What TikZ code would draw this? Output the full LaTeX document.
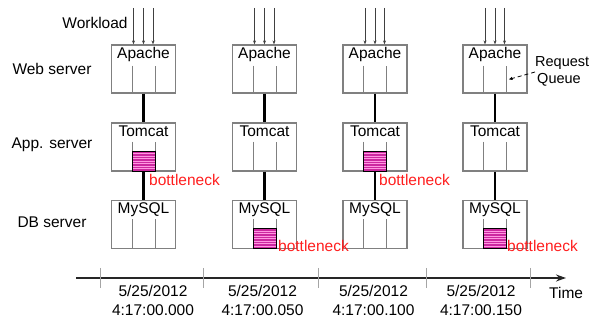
\documentclass[tikz,border=0pt]{standalone}
\usepackage{fontspec}
\setmainfont{Liberation Sans}
\usetikzlibrary{arrows.meta,calc}
\definecolor{boxgray}{RGB}{128,128,128}
\definecolor{jammag}{RGB}{204,40,160}
\definecolor{jampink}{RGB}{255,150,225}
\definecolor{bnred}{RGB}{255,30,30}
\definecolor{tickgray}{RGB}{165,165,165}
\begin{document}
\begin{tikzpicture}[x=1pt,y=-1pt,
  every node/.style={font=\fontsize{15.5}{19}\selectfont},
  srv/.style={draw=boxgray,line width=1.2pt,minimum width=64pt,minimum height=48pt,inner sep=0pt},
  srvname/.style={anchor=north,inner sep=3pt},
  qline/.style={draw=boxgray,line width=1pt},
  link/.style={line width=2.2pt,black},
  wl/.style={draw=black!75,line width=0.6pt,-{Stealth[length=4pt,width=3pt]}},
  jam/.style={draw=black,line width=0.9pt,fill=jammag,minimum width=23pt,minimum height=20pt,inner sep=0pt,
    path picture={\foreach \k in {1,...,7}{\draw[jampink,line width=0.7pt]
      ($(path picture bounding box.north west)!\k/8!(path picture bounding box.south west)$) --
      ($(path picture bounding box.north east)!\k/8!(path picture bounding box.south east)$);}}},
  bn/.style={text=bnred,anchor=west,inner sep=0pt},
  rowlbl/.style={inner sep=0pt},
  tick/.style={draw=tickgray,line width=1pt},
  datelbl/.style={align=center,inner sep=0pt},
  rqlbl/.style={inner sep=0pt,font=\fontsize{14.5}{17}\selectfont}]
\useasboundingbox (0,0) rectangle (590,320);

% row labels
\node[rowlbl] (wlt) at (95,23) {Workload};
\node[rowlbl] (rweb) at (52,69) {Web server};
\node[rowlbl] (rapp) at (52,145) {App. server};
\node[rowlbl] (rdb) at (52,222) {DB server};

% columns: centres 143.5, 264.5, 375, 495
\foreach \c/\cx in {1/143.5,2/264.5,3/375,4/495}{
  \node[srv] (a\c) at (\cx,69) {};
  \node[srvname] (a\c t) at (a\c.north) {Apache};
  \node[srv] (t\c) at (\cx,147) {};
  \node[srvname] (t\c t) at (t\c.north) {Tomcat};
  \node[srv] (m\c) at (\cx,224.5) {};
  \node[srvname] (m\c t) at (m\c.north) {MySQL};
  % request queues
  \draw[qline] ($(a\c.south)+(-11.5,-28)$) -- ($(a\c.south)+(-11.5,-1)$) -- ($(a\c.south)+(11.5,-1)$) -- ($(a\c.south)+(11.5,-28)$);
  \draw[qline] ($(t\c.south)+(-11.5,-30)$) -- ($(t\c.south)+(-11.5,-1)$) -- ($(t\c.south)+(11.5,-1)$) -- ($(t\c.south)+(11.5,-30)$);
  \draw[qline] ($(m\c.south)+(-11.5,-30)$) -- ($(m\c.south)+(-11.5,-1)$) -- ($(m\c.south)+(11.5,-1)$) -- ($(m\c.south)+(11.5,-30)$);
  % workload arrows
  \coordinate (w\c a) at (\cx-10,8);
  \coordinate (w\c b) at (\cx,8);
  \coordinate (w\c c) at (\cx+9.5,8);
  \draw[wl] (w\c a) -- (w\c a |- a\c.north);
  \draw[wl] (w\c b) -- (w\c b |- a\c.north);
  \draw[wl] (w\c c) -- (w\c c |- a\c.north);
  % links
  \draw[link] (a\c.south) -- (t\c.north);
  \draw[link] (t\c.south) -- (m\c.north);
}

% bottleneck queues
\node[jam] (j1) at ($(t1.south)+(0,-10.6)$) {};
\node[bn] (b1) at (149,180) {bottleneck};
\node[jam] (j2) at ($(m2.south)+(0,-10.6)$) {};
\node[bn] (b2) at (278,246) {bottleneck};
\node[jam] (j3) at ($(t3.south)+(0,-10.6)$) {};
\node[bn] (b3) at (379,180) {bottleneck};
\node[jam] (j4) at ($(m4.south)+(0,-10.6)$) {};
\node[bn] (b4) at (507,246) {bottleneck};

% request queue annotation
\node[rqlbl,anchor=west] (rq1) at (535,63) {Request};
\node[rqlbl] (rq2) at (559,80) {Queue};
\coordinate (rqs) at (535,72);
\coordinate (rqe) at (508.5,79.5);
\draw[black,line width=0.8pt,dash pattern=on 4pt off 3pt,-{Latex[length=4pt,width=3.5pt]}] (rqs) -- (rqe);

% timeline
\coordinate (ts) at (76,278);
\coordinate (te) at (566,278);
\draw[line width=1.8pt,black!85,-{Stealth[length=10pt,width=7pt]}] (ts) -- (te);
\foreach \i/\x in {1/100,2/203,3/318,4/426,5/530}{
  \coordinate (k\i a) at (\x,268);
  \coordinate (k\i b) at (\x,288);
  \draw[tick] (k\i a) -- (k\i b);
}
\node[anchor=west,inner sep=0pt] (time) at (549,293) {Time};
\node[datelbl] (d1) at (153,300.5) {5/25/2012\\4:17:00.000};
\node[datelbl] (d2) at (262.5,300.5) {5/25/2012\\4:17:00.050};
\node[datelbl] (d3) at (373.5,300.5) {5/25/2012\\4:17:00.100};
\node[datelbl] (d4) at (481,300.5) {5/25/2012\\4:17:00.150};
\end{tikzpicture}
\end{document}
